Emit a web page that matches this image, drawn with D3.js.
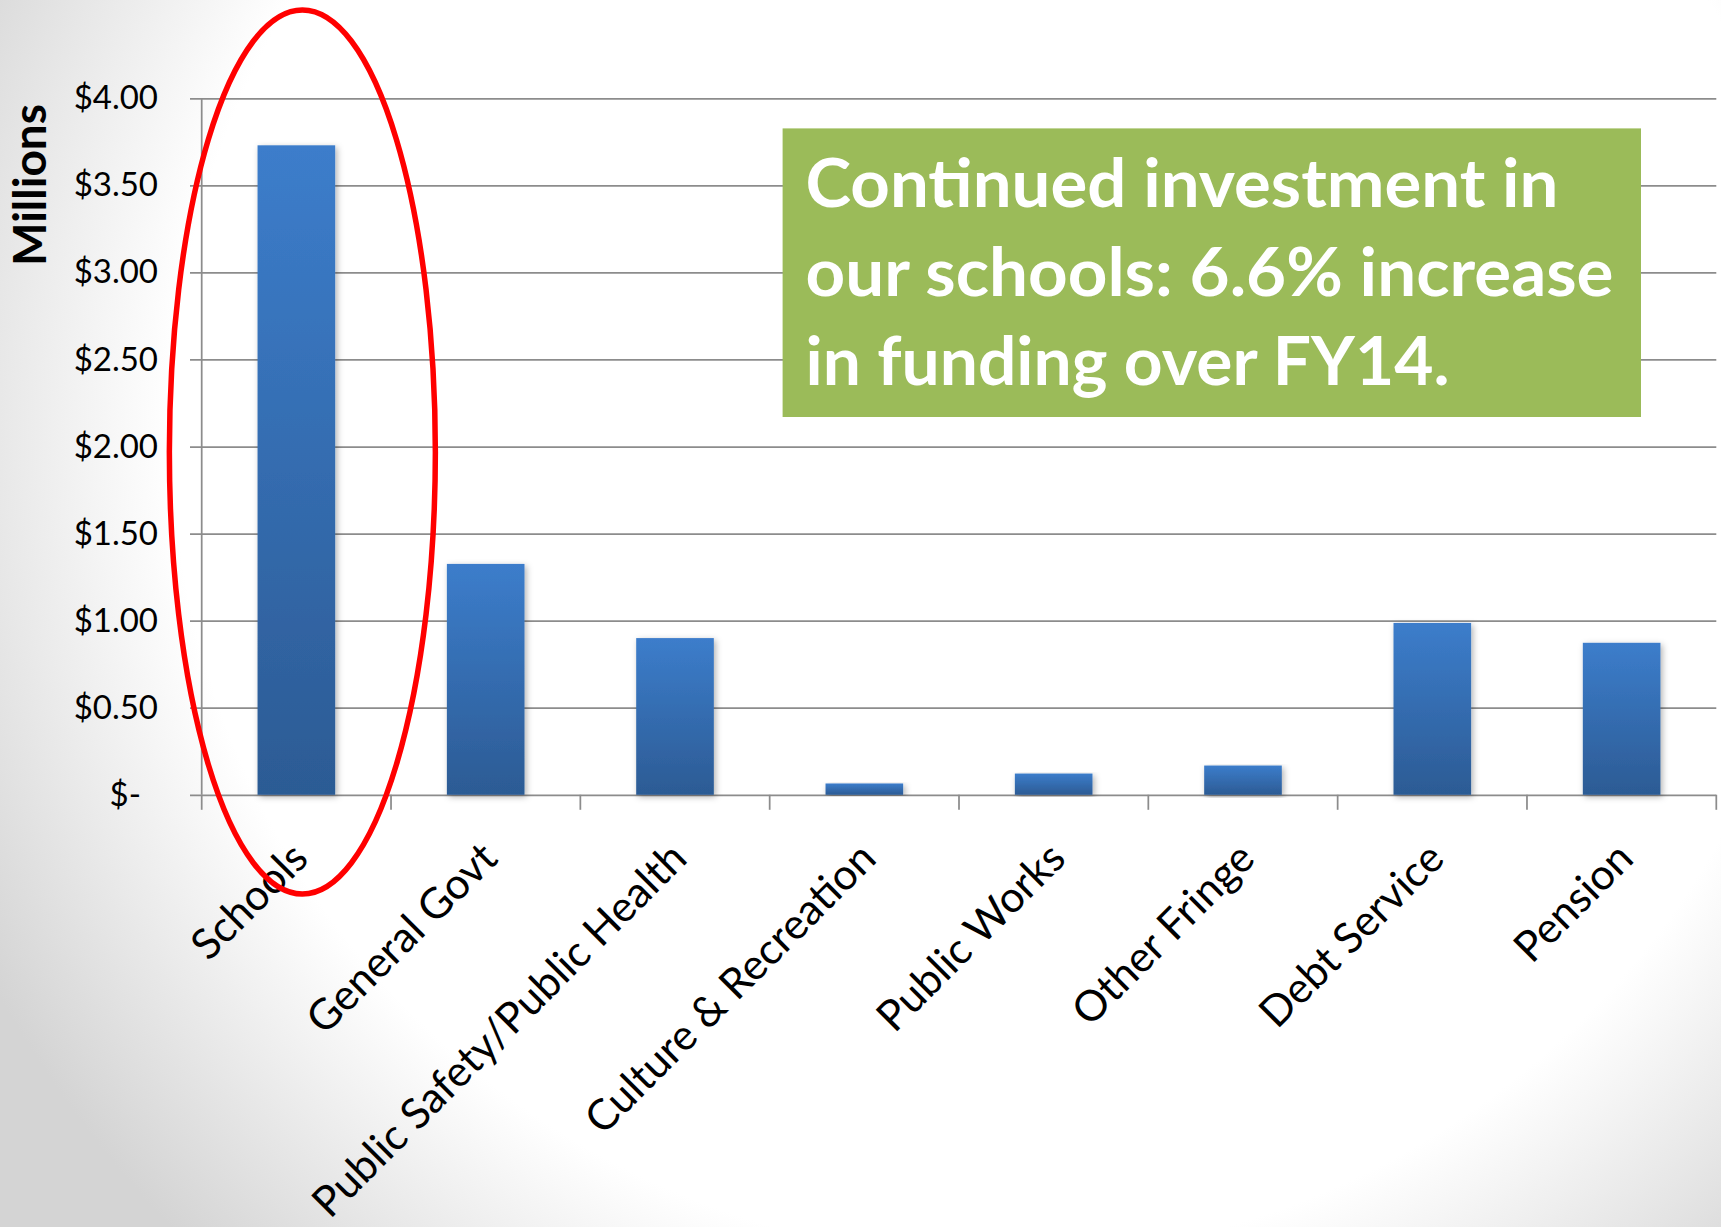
<!DOCTYPE html>
<html>
<head>
<meta charset="utf-8">
<script src="https://cdn.jsdelivr.net/npm/d3@7"></script>
<style>
  body { margin: 0; background: #fff; }
  svg { display: block; }
</style>
</head>
<body>
<div id="chart"></div>
<script>
// chart data
const categories = ["Schools", "General Govt", "Public Safety/Public Health", "Culture & Recreation",
    "Public Works", "Other Fringe", "Debt Service", "Pension"];
const values = [3.73, 1.326, 0.90, 0.065, 0.122, 0.168, 0.987, 0.873];
const yTicks = [0, 0.5, 1, 1.5, 2, 2.5, 3, 3.5, 4];
const yLabel = "Millions";
const calloutLines = ["Continued investment in", "our schools: 6.6% increase", "in funding over FY14."];

const width = 1721, height = 1227;
const plot = {left: 201.7, right: 1716.3, top: 98.3, bottom: 794.8};
const FONT = "Lato, 'Open Sans', sans-serif";

let svg = d3.select("#chart")
    .append("svg")
    .attr("width", width)
    .attr("height", height);

let defs = svg.append("defs");

// slide background: white centre fading to grey corners
let bg = defs.append("radialGradient")
    .attr("id", "bgGrad")
    .attr("gradientUnits", "userSpaceOnUse")
    .attr("cx", 1000).attr("cy", 430).attr("r", 1150);
bg.append("stop").attr("offset", 0.72).attr("stop-color", "#ffffff");
bg.append("stop").attr("offset", 1).attr("stop-color", "#d4d4d4");

// bar gradient
let barGrad = defs.append("linearGradient")
    .attr("id", "barGrad")
    .attr("x1", 0).attr("y1", 0).attr("x2", 0).attr("y2", 1);
barGrad.append("stop").attr("offset", 0).attr("stop-color", "#3c7dcb");
barGrad.append("stop").attr("offset", 1).attr("stop-color", "#2c5b94");

let shadow = defs.append("filter")
    .attr("id", "barShadow")
    .attr("x", "-20%").attr("y", "-5%").attr("width", "140%").attr("height", "115%");
shadow.append("feDropShadow")
    .attr("dx", 2).attr("dy", 2).attr("stdDeviation", 3)
    .attr("flood-color", "#000").attr("flood-opacity", 0.3);

svg.append("rect")
    .attr("width", width).attr("height", height)
    .attr("fill", "url(#bgGrad)");

// scales
let x = d3.scaleBand()
    .domain(categories)
    .range([plot.left, plot.right])
    .paddingInner(0.59)
    .paddingOuter(0.295);

let y = d3.scaleLinear()
    .domain([0, 4])
    .range([plot.bottom, plot.top]);

// gridlines + y tick labels
let yAxis = svg.append("g")
    .attr("transform", `translate(${plot.right},0)`)
    .call(d3.axisLeft(y)
        .tickValues(yTicks)
        .tickSize(plot.right - 190)
        .tickPadding(32)
        .tickFormat(d => d === 0 ? "$-" : "$" + d.toFixed(2)));
yAxis.select(".domain").remove();
yAxis.selectAll("line")
    .attr("stroke", "#8c8c8c")
    .attr("stroke-width", 1.75);
yAxis.selectAll("text")
    .attr("fill", "#000")
    .style("font-family", FONT)
    .style("font-size", "33px");
yAxis.selectAll(".tick")
    .filter(d => d === 0)
    .select("text")
    .attr("dx", -17);

// vertical axis line
svg.append("line")
    .attr("x1", plot.left).attr("x2", plot.left)
    .attr("y1", y(4)).attr("y2", plot.bottom)
    .attr("stroke", "#8c8c8c")
    .attr("stroke-width", 1.75);

// category boundary ticks
let step = x.step();
svg.selectAll(".catTick")
    .data(d3.range(categories.length + 1))
    .enter()
    .append("line")
        .attr("class", "catTick")
        .attr("x1", i => plot.left + i * step)
        .attr("x2", i => plot.left + i * step)
        .attr("y1", plot.bottom)
        .attr("y2", plot.bottom + 15)
        .attr("stroke", "#8c8c8c")
        .attr("stroke-width", 1.75);

// category labels
let xAxis = svg.append("g")
    .attr("transform", `translate(0,${plot.bottom})`)
    .call(d3.axisBottom(x).tickSize(0));
xAxis.select(".domain").remove();
xAxis.selectAll("text")
    .attr("x", 0)
    .attr("y", 0)
    .attr("dy", 0)
    .attr("transform", "translate(14,66) rotate(-45)")
    .style("text-anchor", "end")
    .attr("fill", "#000")
    .style("font-family", FONT)
    .style("font-size", "42.5px");

// bars
svg.selectAll(".bar")
    .data(categories.map((c, i) => ({cat: c, value: values[i]})))
    .enter()
    .append("rect")
        .attr("class", "bar")
        .attr("x", d => x(d.cat))
        .attr("y", d => y(d.value))
        .attr("width", x.bandwidth())
        .attr("height", d => y(0) - y(d.value))
        .attr("fill", "url(#barGrad)")
        .attr("filter", "url(#barShadow)");

// y axis title
svg.append("text")
    .attr("transform", "translate(46,185) rotate(-90)")
    .style("text-anchor", "middle")
    .style("font-family", FONT)
    .style("font-weight", "bold")
    .style("font-size", "46px")
    .attr("fill", "#000")
    .text(yLabel);

// green callout box
const box = {x: 782.6, y: 128.4, w: 858.4, h: 288.6};
const lineLengths = [753, 808, 644];
svg.append("rect")
    .attr("x", box.x).attr("y", box.y)
    .attr("width", box.w).attr("height", box.h)
    .attr("fill", "#9bbb59");
svg.selectAll(".callout")
    .data(calloutLines)
    .enter()
    .append("text")
        .attr("class", "callout")
        .attr("x", 805.5)
        .attr("y", (d, i) => 207.3 + i * 88.8)
        .attr("textLength", (d, i) => lineLengths[i])
        .attr("lengthAdjust", "spacingAndGlyphs")
        .style("font-family", FONT)
        .style("font-weight", "bold")
        .style("font-size", "66px")
        .attr("fill", "#fff")
        .text(d => d);

// red ellipse highlighting Schools
svg.append("ellipse")
    .attr("cx", x("Schools") + x.bandwidth() / 2 + 6)
    .attr("cy", 452)
    .attr("rx", 133)
    .attr("ry", 442)
    .attr("fill", "none")
    .attr("stroke", "#ff0000")
    .attr("stroke-width", 5.5);
</script>
</body>
</html>
